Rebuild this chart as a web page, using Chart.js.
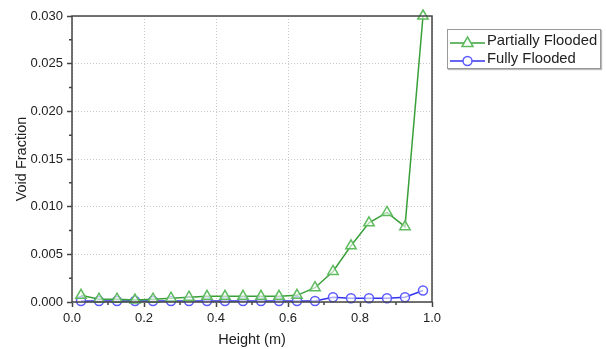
<!DOCTYPE html>
<html>
<head>
<meta charset="utf-8">
<script src="https://cdn.jsdelivr.net/npm/chart.js@4"></script>
<style>
  body { margin: 0; background: #fff; font-family: "Liberation Sans", Arial, sans-serif; }
  #wrap { position: relative; width: 606px; height: 349px; }
  #legend { position: absolute; left: 447px; top: 29px; width: 152px; height: 38px;
            border: 1px solid #999; box-shadow: 1px 1px 1px #bbb; background: #fff; }
  .row { position: absolute; left: 2px; height: 18px; font-size: 14.8px; color: #222; white-space: nowrap; }
  .row svg { position: absolute; left: 0; top: 2px; }
  .row span { position: absolute; left: 37px; top: 0px; }
</style>
</head>
<body>
<div id="wrap">
  <canvas id="myChart" width="606" height="349"></canvas>
  <div id="legend">
    <div class="row" style="top:2px">
      <svg width="36" height="16"><line x1="0" y1="9" x2="35" y2="9" stroke="#39a039" stroke-width="1.5"/><polygon points="17.5,3 23,12.5 12,12.5" fill="#fff" stroke="#5fbb5f" stroke-width="1.5"/></svg>
      <span>Partially Flooded</span>
    </div>
    <div class="row" style="top:20px">
      <svg width="36" height="16"><line x1="0" y1="9" x2="35" y2="9" stroke="#3333ee" stroke-width="1.5"/><circle cx="17.5" cy="9" r="4.5" fill="#fff" stroke="#5a5aff" stroke-width="1.5"/></svg>
      <span>Fully Flooded</span>
    </div>
  </div>
</div>
<script>
var heights = [0.025, 0.075, 0.125, 0.175, 0.225, 0.275, 0.325, 0.375, 0.425, 0.475,
               0.525, 0.575, 0.625, 0.675, 0.725, 0.775, 0.825, 0.875, 0.925, 0.975];
var partially_flooded = [0.0007, 0.0003, 0.0003, 0.0002, 0.0003, 0.0004, 0.0005, 0.0006, 0.0006, 0.0006,
                         0.0006, 0.0006, 0.0007, 0.0015, 0.0032, 0.0059, 0.0083, 0.0094, 0.0079, 0.0300];
var fully_flooded = [0.0001, 0.0001, 0.0001, 0.0001, 0.0001, 0.0001, 0.0001, 0.0001, 0.0001, 0.0001,
                     0.0001, 0.0001, 0.0001, 0.0001, 0.0005, 0.0004, 0.0004, 0.0004, 0.0005, 0.0012];
var x_minor = [0.1, 0.3, 0.5, 0.7, 0.9];
var y_minor = [0.0025, 0.0075, 0.0125, 0.0175, 0.0225, 0.0275];

function toPoints(values){
	var pts = [];
	for (var i = 0; i < heights.length; i++) {
		pts.push({x: heights[i], y: values[i]});
	}
	return pts;
}

// frame round the plot + minor ticks
var framePlugin = {
	id: 'frame',
	afterDraw: function(chart){
		var ctx = chart.ctx;
		var a = chart.chartArea;
		var xs = chart.scales.x, ys = chart.scales.y;
		ctx.save();
		ctx.strokeStyle = '#444';
		ctx.lineWidth = 1.5;
		ctx.strokeRect(a.left, a.top, a.right - a.left, a.bottom - a.top);
		ctx.beginPath();
		x_minor.forEach(function(v){
			var px = xs.getPixelForValue(v);
			ctx.moveTo(px, a.bottom);
			ctx.lineTo(px, a.bottom + 3);
		});
		y_minor.forEach(function(v){
			var py = ys.getPixelForValue(v);
			ctx.moveTo(a.left, py);
			ctx.lineTo(a.left - 3, py);
		});
		ctx.stroke();
		ctx.restore();
	}
};

const ctx = document.getElementById('myChart');

new Chart(ctx, {
	type: 'line',
	data: {
		datasets: [
			{
				label: 'Partially Flooded',
				data: toPoints(partially_flooded),
				borderColor: '#39a039',
				borderWidth: 1.5,
				pointStyle: 'triangle',
				pointRadius: 6,
				pointBorderColor: '#5fbb5f',
				pointBackgroundColor: 'rgba(255,255,255,0.6)',
				pointBorderWidth: 1.5,
				tension: 0
			},
			{
				label: 'Fully Flooded',
				data: toPoints(fully_flooded),
				borderColor: '#3333ee',
				borderWidth: 1.5,
				pointStyle: 'circle',
				pointRadius: 4.5,
				pointBorderColor: '#5a5aff',
				pointBackgroundColor: 'rgba(255,255,255,0.6)',
				pointBorderWidth: 1.5,
				tension: 0
			}
		]
	},
	options: {
		responsive: false,
		animation: false,
		clip: false,
		layout: { padding: { left: 0, top: 16, right: 174, bottom: 0 } },
		plugins: {
			legend: { display: false },
			tooltip: { enabled: false }
		},
		scales: {
			x: {
				type: 'linear',
				min: 0,
				max: 1,
				afterFit: function(scale){ scale.height = 47; },
				ticks: {
					stepSize: 0.2,
					padding: 4,
					color: '#222',
					font: { family: 'Liberation Sans', size: 13 },
					callback: function(v){ return v.toFixed(1); }
				},
				grid: { color: '#c8c8c8', tickColor: '#444', tickLength: 5, tickWidth: 1.5 },
				border: { display: false, dash: [1, 2] },
				title: {
					display: true,
					text: 'Height (m)',
					color: '#222',
					font: { family: 'Liberation Sans', size: 14.5, lineHeight: 1.2 },
					padding: { top: 0, bottom: 0 }
				}
			},
			y: {
				min: 0,
				max: 0.03,
				afterFit: function(scale){ scale.width = 72; },
				ticks: {
					stepSize: 0.005,
					padding: 4,
					color: '#222',
					font: { family: 'Liberation Sans', size: 13 },
					callback: function(v){ return v.toFixed(3); }
				},
				grid: { color: '#c8c8c8', tickColor: '#444', tickLength: 5, tickWidth: 1.5 },
				border: { display: false, dash: [1, 2] },
				title: {
					display: true,
					text: 'Void Fraction',
					color: '#222',
					font: { family: 'Liberation Sans', size: 14.5, lineHeight: 1.2 },
					padding: { top: 13, bottom: 0 }
				}
			}
		}
	},
	plugins: [framePlugin]
});
</script>
</body>
</html>
